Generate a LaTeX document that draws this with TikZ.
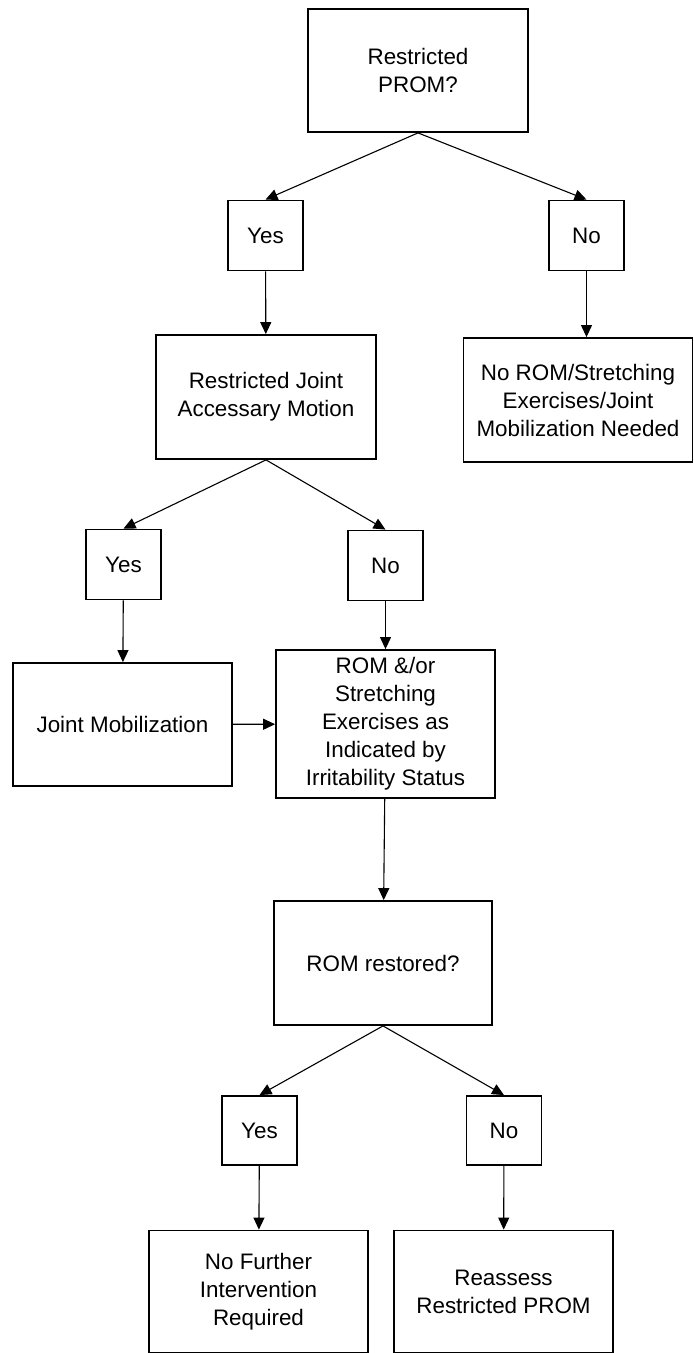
\documentclass[tikz,border=0pt]{standalone}
\usepackage{fontspec}
\setmainfont{Liberation Sans}
\usepackage{tikz}
\usetikzlibrary{arrows.meta, positioning}

\begin{document}
\begin{tikzpicture}[x=0.5pt, y=-0.5pt,
  flowbox/.style={draw, line width=0.9pt, align=center, inner sep=0pt, minimum width=110pt, minimum height=62pt, font=\fontsize{11.2pt}{14pt}\selectfont},
  answer/.style={draw, line width=0.9pt, inner sep=0pt, minimum width=37.5pt, minimum height=35pt, font=\fontsize{11.2pt}{14pt}\selectfont},
  flowarrow/.style={-{Triangle[length=6pt, width=5.5pt]}, line width=0.55pt}]
\useasboundingbox (0,0) rectangle (694,1353);
\node[flowbox, minimum height=61.5pt] (prom) at (418,70.5) {Restricted\\PROM?};
\node[answer] (yes1) at (265.5,235.5) {Yes};
\node[answer] (no1) at (586.5,235.5) {No};
\node[flowbox] (joint) at (266,397) {Restricted Joint\\Accessary Motion};
\node[flowbox, minimum width=114.5pt] (noneed) at (578,400) {No ROM/Stretching\\Exercises/Joint\\Mobilization Needed};
\node[answer] (yes2) at (123.5,564.5) {Yes};
\node[answer] (no2) at (385.5,565.5) {No};
\node[flowbox, minimum width=109.5pt, minimum height=61.5pt] (mob) at (122.5,724.5) {Joint Mobilization};
\node[flowbox, minimum width=109.5pt, minimum height=74pt] (rom) at (385.5,724) {ROM \&/or\\Stretching\\Exercises as\\Indicated by\\Irritability Status};
\node[flowbox, minimum width=109pt] (restored) at (383,963) {ROM restored?};
\node[answer, minimum height=34.5pt] (yes3) at (259.5,1130.5) {Yes};
\node[answer, minimum height=34.5pt] (no3) at (504,1130.5) {No};
\node[flowbox, minimum width=109.5pt, minimum height=61pt] (nofurther) at (258.5,1291.5) {No Further\\Intervention\\Required};
\node[flowbox, minimum width=109.5pt, minimum height=61pt] (reassess) at (503.5,1291.5) {Reassess\\Restricted PROM};

\draw[flowarrow] (prom.south) -- (yes1.north);
\draw[flowarrow] (prom.south) -- (no1.north);
\draw[flowarrow] (yes1) -- (joint);
\draw[flowarrow] (no1.south) -- (no1.south |- noneed.north);
\draw[flowarrow] (joint.south) -- (yes2.north);
\draw[flowarrow] (joint.south) -- (no2.north);
\draw[flowarrow] (yes2) -- (mob);
\draw[flowarrow] (no2) -- (rom);
\draw[flowarrow] (mob) -- (rom);
\draw[flowarrow] (rom) -- (restored);
\draw[flowarrow] (restored.south) -- (yes3.north);
\draw[flowarrow] (restored.south) -- (no3.north);
\draw[flowarrow] (yes3) -- (nofurther);
\draw[flowarrow] (no3) -- (reassess);
\end{tikzpicture}
\end{document}
